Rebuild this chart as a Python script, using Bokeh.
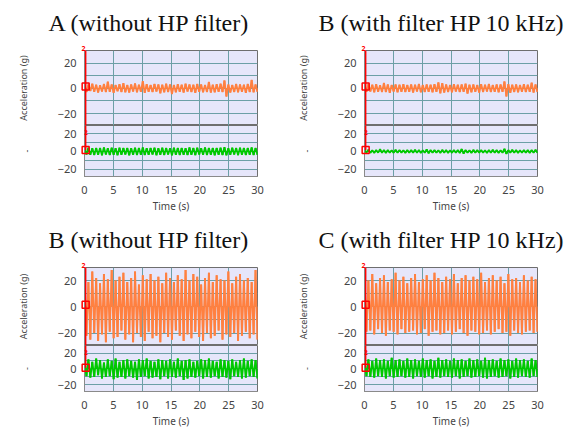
import numpy as np
from bokeh.plotting import figure
from bokeh.layouts import column, row
from bokeh.models import Range1d, FixedTicker, Label, Grid, Span, Title
from bokeh.embed import file_html
from bokeh.resources import INLINE

# ---------------- data ----------------
panel_titles = ["A (without HP filter)", "B (with filter HP 10 kHz)",
                "B (without HP filter)", "C (with filter HP 10 kHz)"]
y_axis_label = "Acceleration (g)"
y_axis_label_lower = "-"
x_axis_label = "Time (s)"
x_ticks = [0, 5, 10, 15, 20, 25, 30]
y_ticks = [-20, 0, 20]
grid_y = [-20, -10, 0, 10, 20]
grid_x = [5, 10, 15, 20, 25]
time_start, time_end = 0, 30
cursor_time = 0.2
cursor_value = 1.5
cursor_label = "2"

orange_a = [2.4,-2.9,3.1,-2.2,3.6,-2.7,2.8,-3.3,2.5,-2.6,3.4,-3.0,5.2,-2.8,3.0,-3.5,2.6,-2.4,3.3,-2.9,
            4.1,-3.1,2.7,-3.4,3.0,-2.5,3.8,-3.2,2.9,-2.7,5.6,-3.6,3.2,-2.8,2.6,-3.0,3.5,-2.6,3.1,-3.9,
            2.8,-3.2,3.6,-2.9,3.0,-4.6,2.7,-3.1,3.3,-2.8,2.9,-3.4,3.7,-2.6,3.1,-3.0,2.8,-3.5,3.4,-2.7,
            3.0,-3.2,2.6,-2.9,5.1,-3.3,2.9,-3.1,3.2,-2.8,3.6,-3.0,6.2,-6.5,3.0,-3.4,2.7,-2.9,3.5,-3.1,
            3.1,-2.7,2.9,-3.6,3.4,-3.0,6.6,-3.2,3.0,-2.8]
green_a = [3.8,-3.5,4.2,-3.9,3.6,-4.1,4.0,-3.7,3.9,-4.3,4.4,-3.6,3.7,-4.0,4.1,-3.8,3.5,-4.2,4.3,-3.9,
           3.9,-3.6,4.0,-4.4,3.6,-3.8,4.2,-4.0,3.8,-3.7,4.5,-4.1,3.7,-3.9,4.0,-3.5,4.1,-4.2,3.6,-3.8,
           4.3,-4.0,3.9,-3.6,3.7,-4.3,4.2,-3.9,3.8,-4.1,4.0,-3.7,3.6,-4.0,4.4,-3.8,3.9,-4.2,4.1,-3.6,
           3.7,-3.9,4.6,-4.1,3.8,-3.7,4.0,-4.4,3.9,-3.8,4.2,-4.0,4.8,-4.3,3.7,-3.9,4.1,-3.6,3.9,-4.2,
           4.3,-3.8,3.8,-4.0,4.0,-3.7,4.4,-4.1,3.9,-3.8]
orange_b = [2.6,-2.8,3.4,-2.5,2.9,-3.1,3.2,-2.7,2.5,-3.0,4.3,-2.9,3.0,-3.6,2.7,-2.6,3.1,-3.2,2.8,-2.7,
            3.3,-3.0,2.6,-2.8,3.0,-3.3,2.9,-2.6,3.5,-3.1,2.7,-2.9,3.1,-2.7,2.8,-3.2,3.2,-2.8,4.6,-3.9,
            4.1,-3.4,3.0,-2.9,2.7,-3.1,3.3,-2.6,2.9,-3.0,3.1,-2.8,3.6,-4.2,2.8,-3.1,3.0,-2.7,2.6,-3.3,
            3.2,-2.9,2.9,-2.6,3.4,-3.0,2.7,-2.8,3.1,-3.2,3.0,-2.7,5.4,-6.4,3.3,-3.5,2.8,-2.9,3.0,-3.1,
            2.7,-2.8,3.2,-3.0,2.9,-2.7,4.4,-3.3,3.1,-2.9]
green_b = [1.5,-1.3,1.8,-1.6,1.4,-1.7,1.6,-1.4,2.6,-1.5,1.7,-1.8,1.5,-1.4,1.3,-1.6,1.8,-1.5,1.6,-1.3,
           1.4,-1.7,1.7,-1.5,1.5,-1.6,1.9,-1.4,1.6,-1.8,1.4,-1.5,2.4,-2.2,1.7,-1.6,1.5,-1.4,1.3,-1.7,
           1.8,-1.5,1.6,-1.9,1.4,-1.6,1.7,-1.4,1.5,-1.8,2.8,-2.5,1.6,-1.5,1.4,-1.7,1.8,-1.6,1.5,-1.4,
           1.7,-1.5,1.4,-1.8,1.6,-1.6,1.9,-1.4,1.5,-1.7,1.3,-1.5,3.0,-2.8,1.6,-1.6,1.8,-1.4,1.5,-1.7,
           1.4,-1.5,1.7,-1.6,1.5,-1.8,1.6,-1.4,1.8,-1.6]
orange_c = [24,-22,19,-25,27,-20,22,-26,18,-21,25,-27,21,-19,28,-24,20,-23,23,-18,
            26,-25,19,-21,22,-27,27,-20,17,-23,24,-26,21,-19,25,-24,20,-22,23,-27,
            18,-20,26,-23,22,-25,19,-18,24,-22,21,-26,28,-21,20,-24,25,-19,23,-23,
            17,-26,22,-20,26,-24,19,-22,24,-18,21,-25,20,-21,27,-23,18,-20,23,-26,
            25,-22,20,-19,22,-24,19,-21,28,-25]
green_c = [10,-9,12,-11,9,-10,13,-8,11,-12,8,-10,12,-9,10,-13,13,-11,9,-10,
           11,-12,12,-9,10,-11,9,-14,12,-10,11,-9,13,-12,10,-11,9,-10,12,-13,
           11,-9,10,-12,12,-10,9,-11,13,-9,10,-14,11,-12,12,-10,9,-11,10,-9,
           12,-12,11,-10,13,-11,10,-9,9,-12,12,-10,11,-11,10,-13,12,-9,9,-10,
           11,-12,13,-11,10,-9,12,-10,11,-12]
orange_d = [23,-19,20,-18,25,-21,18,-17,22,-20,24,-22,19,-18,21,-19,26,-21,20,-17,
            23,-20,18,-19,22,-18,25,-21,19,-20,21,-17,24,-22,20,-19,26,-18,22,-21,
            19,-20,23,-18,21,-21,25,-19,18,-17,22,-20,24,-22,20,-18,23,-19,21,-21,
            26,-20,19,-18,22,-21,24,-19,20,-17,23,-20,18,-19,25,-22,21,-18,22,-20,
            19,-21,24,-19,20,-18,23,-20,21,-19]
green_d = [11,-9,12,-10,10,-11,13,-9,11,-10,12,-12,10,-9,14,-11,11,-10,12,-9,
           10,-11,13,-10,11,-12,12,-9,10,-10,13,-11,11,-9,12,-12,10,-10,14,-11,
           11,-9,12,-10,10,-11,13,-9,11,-12,12,-10,10,-9,13,-11,11,-10,12,-9,
           10,-11,14,-12,11,-10,12,-9,10,-11,13,-10,11,-9,12,-12,10,-10,13,-11,
           11,-9,12,-10,10,-11,13,-9,11,-10]

# ---------------- style ----------------
ORANGE = "#ff8040"
GREEN = "#00c800"
BG = "#e6e6fa"
GRID = "#6c9fa6"
FRAME = "#6e6e6e"
RED = "#ff0000"
TOP_RANGE = (-29.5, 30)
BOT_RANGE = (-28.5, 29.5)


def style(p, show_x):
    p.background_fill_color = BG
    p.border_fill_color = "white"
    p.outline_line_color = FRAME
    p.outline_line_width = 1
    p.grid.grid_line_color = None
    p.add_layout(Grid(dimension=0, ticker=FixedTicker(ticks=grid_x),
                      grid_line_color=GRID, grid_line_width=1), "center")
    p.add_layout(Grid(dimension=1, ticker=FixedTicker(ticks=grid_y),
                      grid_line_color=GRID, grid_line_width=1), "center")
    p.yaxis.ticker = FixedTicker(ticks=y_ticks)
    p.yaxis.major_tick_line_color = None
    p.yaxis.minor_tick_line_color = None
    p.yaxis.axis_line_color = "#8a8a8a"
    p.yaxis.major_label_text_font = "Noto Sans"
    p.yaxis.major_label_text_font_size = "11px"
    p.yaxis.major_label_text_color = "#444444"
    p.yaxis.major_label_standoff = 2
    p.yaxis.axis_label_text_font = "Noto Sans"
    p.yaxis.axis_label_text_font_size = "9px"
    p.yaxis.axis_label_text_font_style = "normal"
    p.yaxis.axis_label_text_color = "#444444"
    p.yaxis.axis_label_standoff = 25
    if show_x:
        p.xaxis.ticker = FixedTicker(ticks=x_ticks)
        p.xaxis.major_tick_line_color = None
        p.xaxis.minor_tick_line_color = None
        p.xaxis.axis_line_color = "#8a8a8a"
        p.xaxis.major_label_text_font = "Noto Sans"
        p.xaxis.major_label_text_font_size = "11px"
        p.xaxis.major_label_text_color = "#444444"
        p.xaxis.major_label_standoff = 3
        p.xaxis.axis_label = x_axis_label
        p.xaxis.axis_label_text_font = "Noto Sans"
        p.xaxis.axis_label_text_font_size = "10px"
        p.xaxis.axis_label_text_font_style = "normal"
        p.xaxis.axis_label_text_color = "#444444"
        p.xaxis.axis_label_standoff = 2


def signal(p, t, vals, color):
    p.segment(x0=t, y0=np.zeros(len(vals)), x1=t, y1=vals,
              line_color=color, line_width=2.0)
    p.line(t, vals, line_color=color, line_width=1.8)


def cursor(p, full):
    if full:
        p.add_layout(Span(location=cursor_time, dimension="height",
                          line_color=RED, line_width=1.5, level="overlay"))
    else:
        p.segment(x0=[cursor_time], y0=[cursor_value], x1=[cursor_time],
                  y1=[BOT_RANGE[1]], line_color=RED, line_width=1.5,
                  level="overlay")
    p.scatter(x=[cursor_time], y=[cursor_value], marker="square", size=7,
              fill_color=None, line_color=RED, line_width=1.5,
              level="overlay")


def make_panel(title, top_vals, bot_vals, width, left_b, right_b,
               top_border, top_frame, bot_frame, bot_border, title_offset):
    xr = Range1d(time_start, time_end)
    t_top = np.linspace(time_start, time_end, len(top_vals))
    t_bot = np.linspace(time_start, time_end, len(bot_vals))

    p1 = figure(width=width, height=top_border + top_frame, x_range=xr,
                y_range=Range1d(*TOP_RANGE), x_axis_location=None,
                output_backend="svg", toolbar_location=None,
                min_border_left=left_b, min_border_right=right_b,
                min_border_top=top_border, min_border_bottom=0)
    style(p1, False)
    p1.yaxis.axis_label = y_axis_label
    signal(p1, t_top, top_vals, ORANGE)
    cursor(p1, True)
    p1.add_layout(Title(text=cursor_label, align="left", offset=-3,
                        text_color=RED, text_font_size="7px",
                        text_font="Noto Sans", text_font_style="bold",
                        standoff=0), "above")
    p1.title.text = title
    p1.title.text_font = "Liberation Serif"
    p1.title.text_font_size = "24px"
    p1.title.text_font_style = "normal"
    p1.title.text_color = "#111111"
    p1.title.align = "left"
    p1.title.offset = title_offset
    p1.title.standoff = 15

    p2 = figure(width=width, height=bot_frame + bot_border, x_range=xr,
                y_range=Range1d(*BOT_RANGE), output_backend="svg",
                toolbar_location=None, min_border_left=left_b,
                min_border_right=right_b, min_border_top=0,
                min_border_bottom=bot_border)
    style(p2, True)
    p2.yaxis.axis_label = y_axis_label_lower
    signal(p2, t_bot, bot_vals, GREEN)
    cursor(p2, False)
    p2.add_layout(Label(x=cursor_time, y=BOT_RANGE[1], text=cursor_label,
                        text_color=RED, text_font_size="7px",
                        text_font="Noto Sans", text_font_style="bold",
                        text_align="center", y_offset=-9))
    return column(p1, p2, spacing=0)


pa = make_panel(panel_titles[0], orange_a, green_a, 286, 84, 29, 48, 77, 55, 35, -36)
pb = make_panel(panel_titles[1], orange_b, green_b, 287, 78, 36, 48, 77, 55, 35, -46)
pc = make_panel(panel_titles[2], orange_c, green_c, 286, 84, 29, 52, 78, 55, 30, -36)
pd = make_panel(panel_titles[3], orange_d, green_d, 287, 78, 36, 52, 78, 55, 30, -46)

layout = column(row(pa, pb, spacing=0), row(pc, pd, spacing=0), spacing=0)

open("out.html", "w").write(file_html(layout, INLINE))
